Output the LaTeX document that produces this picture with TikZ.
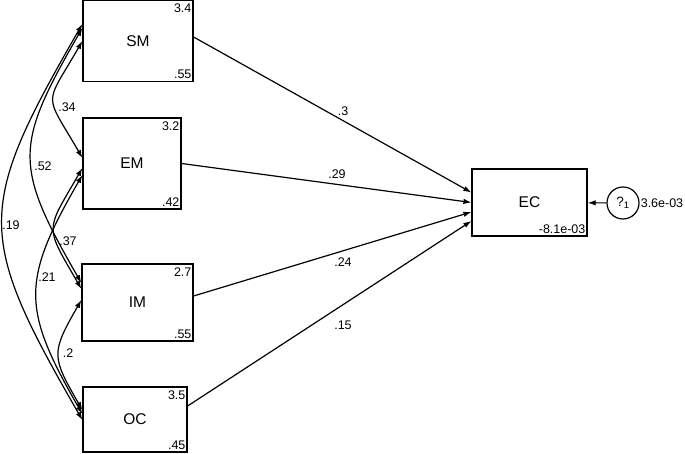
\documentclass[tikz,border=0pt]{standalone}
\usepackage{fontspec}
\setmainfont{Liberation Sans}
\usetikzlibrary{arrows.meta}

\begin{document}
\begin{tikzpicture}[x=1pt,y=1pt,
	vbox/.style={draw, line width=1.2pt, font=\fontsize{15.5}{18}\selectfont},
	coef/.style={font=\fontsize{12.5}{14}\selectfont, inner sep=1pt},
	valtop/.style={anchor=north east, font=\fontsize{12.5}{14}\selectfont, inner xsep=2pt, inner ysep=4pt},
	valbot/.style={anchor=south east, font=\fontsize{12.5}{14}\selectfont, inner xsep=2pt, inner ysep=3pt},
	reg/.style={-{Latex[length=8pt,width=5.5pt]}, line width=1.2pt},
	cov/.style={{Latex[length=8pt,width=5.5pt]}-{Latex[length=8pt,width=5.5pt]}, line width=1.2pt}]
\useasboundingbox (0,0) rectangle (685,454);

\node[vbox, minimum width=110, minimum height=81, label={[valtop]north east:3.4}, label={[valbot]south east:.55}] (sm) at (138,413) {SM};
\node[vbox, minimum width=98, minimum height=91, label={[valtop]north east:3.2}, label={[valbot]south east:.42}] (em) at (132,290.5) {EM};
\node[vbox, minimum width=111, minimum height=77, label={[valtop]north east:2.7}, label={[valbot]south east:.55}] (im) at (137.5,151.5) {IM};
\node[vbox, minimum width=104, minimum height=65, label={[valtop]north east:3.5}, label={[valbot]south east:.45}] (oc) at (135,34.5) {OC};
\node[vbox, minimum width=115, minimum height=67, label={[valbot]south east:-8.1e-03}] (ec) at (529.5,251.5) {EC};
\node[draw, circle, line width=1.2pt, minimum size=32, inner sep=0pt, font=\fontsize{13.5}{15}\selectfont] (e1) at (623,251) {?\textsubscript{1}};
\node[coef, anchor=west] (v1) at (e1.east) {3.6e-03};

\draw[reg] ([yshift=4pt]sm.east) -- ([yshift=10pt]ec.west);
\draw[reg] (em.east) -- (ec.west);
\draw[reg] ([yshift=6.5pt]im.east) -- ([yshift=-9.5pt]ec.west);
\draw[reg] ([yshift=13.5pt]oc.east) -- ([yshift=-18.5pt]ec.west);
\draw[reg] (e1) -- (ec);

\node[coef] (b1) at (343,343) {.3};
\node[coef] (b2) at (337,280) {.29};
\node[coef] (b3) at (343,192) {.24};
\node[coef] (b4) at (343,129) {.15};

\draw[cov] ([yshift=17pt]sm.west) to[out=240, in=120, looseness=1.38] ([yshift=-0.5pt]oc.west);
\draw[cov] ([yshift=13pt]sm.west) to[out=240, in=120, looseness=1.36] ([yshift=19.5pt]im.west);
\draw[cov] (sm.west) to[out=240, in=120, looseness=1.69] ([yshift=5.5pt]em.west);
\draw[cov] ([yshift=-4.5pt]em.west) to[out=240, in=120, looseness=1.57] ([yshift=13.5pt]im.west);
\draw[cov] ([yshift=-11.5pt]em.west) to[out=240, in=120, looseness=1.31] ([yshift=5.5pt]oc.west);
\draw[cov] ([yshift=2.5pt]im.west) to[out=240, in=120, looseness=1.43] ([yshift=9.5pt]oc.west);

\node[coef] (c1) at (67,347) {.34};
\node[coef] (c2) at (43,288) {.52};
\node[coef] (c3) at (11,229) {.19};
\node[coef] (c4) at (68,213) {.37};
\node[coef] (c5) at (47,177) {.21};
\node[coef] (c6) at (68,101) {.2};
\end{tikzpicture}
\end{document}
